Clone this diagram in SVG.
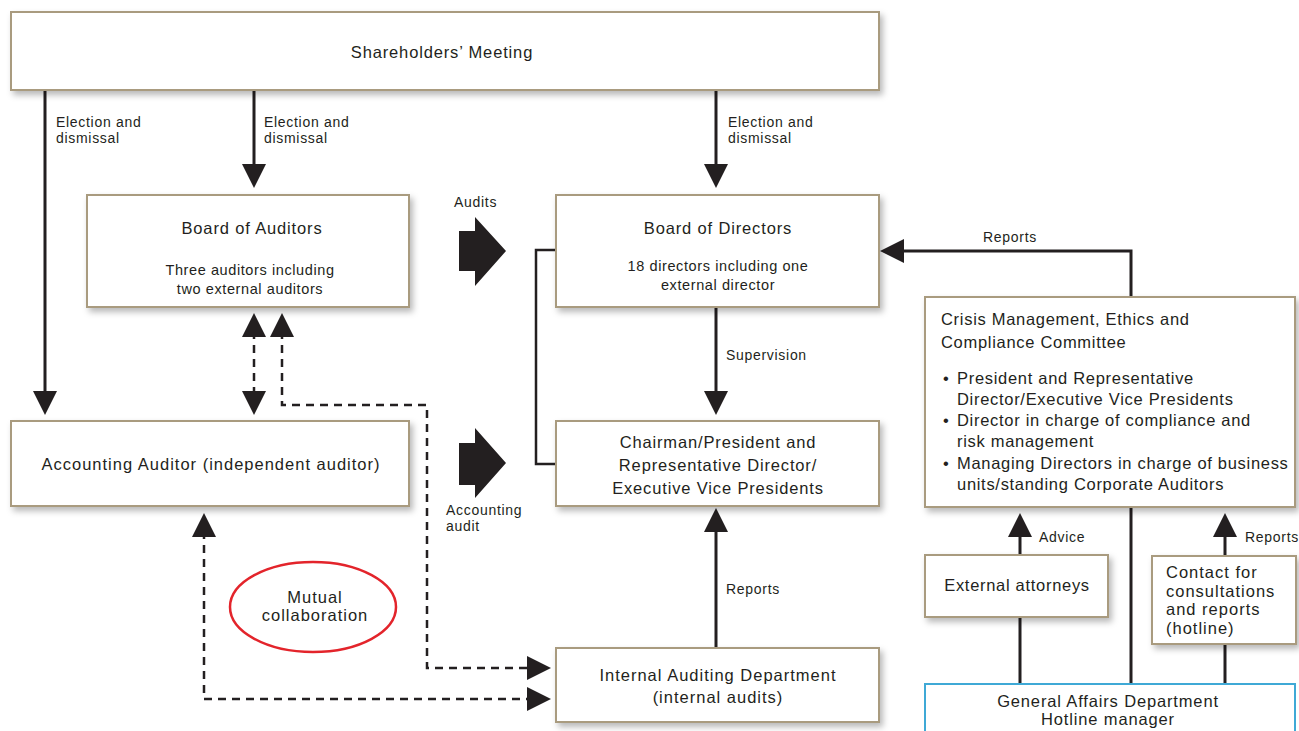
<svg xmlns="http://www.w3.org/2000/svg" width="1299" height="731" viewBox="0 0 1299 731">
<style>
.box{fill:#fff;stroke:#a99b7f;stroke-width:2;filter:url(#sh)}
.blue{fill:#fff;stroke:#3fa9d6;stroke-width:2}
text{font-family:"Liberation Sans",Arial,sans-serif;fill:#231f20}
.t{font-size:16.5px;text-anchor:middle;letter-spacing:0.85px}
.s{font-size:14.5px;text-anchor:middle;letter-spacing:0.6px}
.l{font-size:14px;letter-spacing:0.7px}
.k{font-size:16.5px;letter-spacing:0.7px}
.h{font-size:16.5px;letter-spacing:1px}
.c{fill:none;stroke:#231f20;stroke-width:3}
.d{fill:none;stroke:#231f20;stroke-width:2.5;stroke-dasharray:8 6}
</style>
<defs>
<filter id="sh" x="-10%" y="-10%" width="130%" height="140%">
<feDropShadow dx="3" dy="4" stdDeviation="3" flood-color="#000" flood-opacity="0.28"/>
</filter>
<marker id="ah" viewBox="0 0 24 24" refX="20" refY="12" markerWidth="24" markerHeight="24" markerUnits="userSpaceOnUse" orient="auto-start-reverse">
<path d="M0,0 L24,12 L0,24 Z" fill="#231f20"/>
</marker>
</defs>
<rect width="1299" height="731" fill="#fff"/>

<g id="connectors">
<path class="c" d="M45,90 V411" marker-end="url(#ah)"/>
<path class="c" d="M254,90 V184" marker-end="url(#ah)"/>
<path class="c" d="M716,90 V184" marker-end="url(#ah)"/>
<path class="c" d="M716,307 V411" marker-end="url(#ah)"/>
<path class="c" d="M716,648 V512" marker-end="url(#ah)"/>
<path class="c" d="M1131,297 V251 H884" marker-end="url(#ah)"/>
<path class="c" d="M1131,507 V684"/>
<path class="c" d="M1020,684 V617"/>
<path class="c" d="M1020,555 V517" marker-end="url(#ah)"/>
<path class="c" d="M1225,684 V644"/>
<path class="c" d="M1225,556 V517" marker-end="url(#ah)"/>
<path class="c" d="M556,250 H536 V464 H556" style="stroke-width:2.5"/>
<path class="d" d="M254,317 V411" marker-start="url(#ah)" marker-end="url(#ah)"/>
<path class="d" d="M282,317 V405 H427 V668 H547" marker-start="url(#ah)" marker-end="url(#ah)"/>
<path class="d" d="M204,517 V699 H547" marker-start="url(#ah)" marker-end="url(#ah)"/>
<polygon points="459,231 475,231 475,217 506,251 475,286 475,271 459,271" fill="#231f20"/>
<polygon points="459,443 475,443 475,428 506,463 475,498 475,485 459,485" fill="#231f20"/>
<text class="l" x="56" y="127">Election and</text>
<text class="l" x="56" y="143">dismissal</text>
<text class="l" x="264" y="127">Election and</text>
<text class="l" x="264" y="143">dismissal</text>
<text class="l" x="728" y="127">Election and</text>
<text class="l" x="728" y="143">dismissal</text>
<text class="l" x="454" y="207">Audits</text>
<text class="l" x="446" y="515">Accounting</text>
<text class="l" x="446" y="531">audit</text>
<text class="l" x="726" y="360">Supervision</text>
<text class="l" x="726" y="594">Reports</text>
<text class="l" x="983" y="242">Reports</text>
<text class="l" x="1039" y="542">Advice</text>
<text class="l" x="1245" y="542">Reports</text>
</g>

<g id="shareholders">
<rect class="box" x="11" y="12" width="868" height="78"/>
<text class="t" x="442" y="58">Shareholders’ Meeting</text>
</g>

<g id="board-auditors">
<rect class="box" x="87" y="195" width="322" height="112"/>
<text class="t" x="252" y="234">Board of Auditors</text>
<text class="s" x="250" y="275">Three auditors including</text>
<text class="s" x="250" y="294">two external auditors</text>
</g>

<g id="board-directors">
<rect class="box" x="556" y="195" width="323" height="112"/>
<text class="t" x="718" y="234">Board of Directors</text>
<text class="s" x="718" y="271">18 directors including one</text>
<text class="s" x="718" y="290">external director</text>
</g>

<g id="accounting-auditor">
<rect class="box" x="11" y="421" width="398" height="85"/>
<text class="t" x="211" y="470" style="letter-spacing:1px">Accounting Auditor (independent auditor)</text>
</g>

<g id="chairman">
<rect class="box" x="556" y="421" width="323" height="85"/>
<text class="t" x="718" y="448">Chairman/President and</text>
<text class="t" x="718" y="471">Representative Director/</text>
<text class="t" x="718" y="494">Executive Vice Presidents</text>
</g>

<g id="mutual">
<ellipse cx="313" cy="607" rx="83" ry="45" fill="none" stroke="#e3242b" stroke-width="2.5"/>
<text class="t" x="315" y="603" style="letter-spacing:1px">Mutual</text>
<text class="t" x="315" y="621" style="letter-spacing:1px">collaboration</text>
</g>

<g id="internal-auditing">
<rect class="box" x="556" y="648" width="323" height="74"/>
<text class="t" x="718" y="681" style="letter-spacing:1px">Internal Auditing Department</text>
<text class="t" x="718" y="703" style="letter-spacing:1px">(internal audits)</text>
</g>

<g id="crisis">
<rect class="box" x="925" y="297" width="370" height="210"/>
<text class="k" x="941" y="325">Crisis Management, Ethics and</text>
<text class="k" x="941" y="348">Compliance Committee</text>
<text class="k" x="943" y="384">•</text>
<text class="k" x="957" y="384">President and Representative</text>
<text class="k" x="957" y="405">Director/Executive Vice Presidents</text>
<text class="k" x="943" y="426">•</text>
<text class="k" x="957" y="426">Director in charge of compliance and</text>
<text class="k" x="957" y="447">risk management</text>
<text class="k" x="943" y="469">•</text>
<text class="k" x="957" y="469">Managing Directors in charge of business</text>
<text class="k" x="957" y="490">units/standing Corporate Auditors</text>
</g>

<g id="external-attorneys">
<rect class="box" x="925" y="555" width="183" height="62"/>
<text class="t" x="1017" y="591" style="letter-spacing:0.7px">External attorneys</text>
</g>

<g id="hotline">
<rect class="box" x="1152" y="556" width="144" height="88"/>
<text class="h" x="1166" y="578">Contact for</text>
<text class="h" x="1166" y="597">consultations</text>
<text class="h" x="1166" y="615">and reports</text>
<text class="h" x="1166" y="634">(hotline)</text>
</g>

<g id="general-affairs">
<rect class="blue" x="925" y="684" width="370" height="60"/>
<text class="t" x="1108" y="707">General Affairs Department</text>
<text class="t" x="1108" y="725">Hotline manager</text>
</g>
</svg>
